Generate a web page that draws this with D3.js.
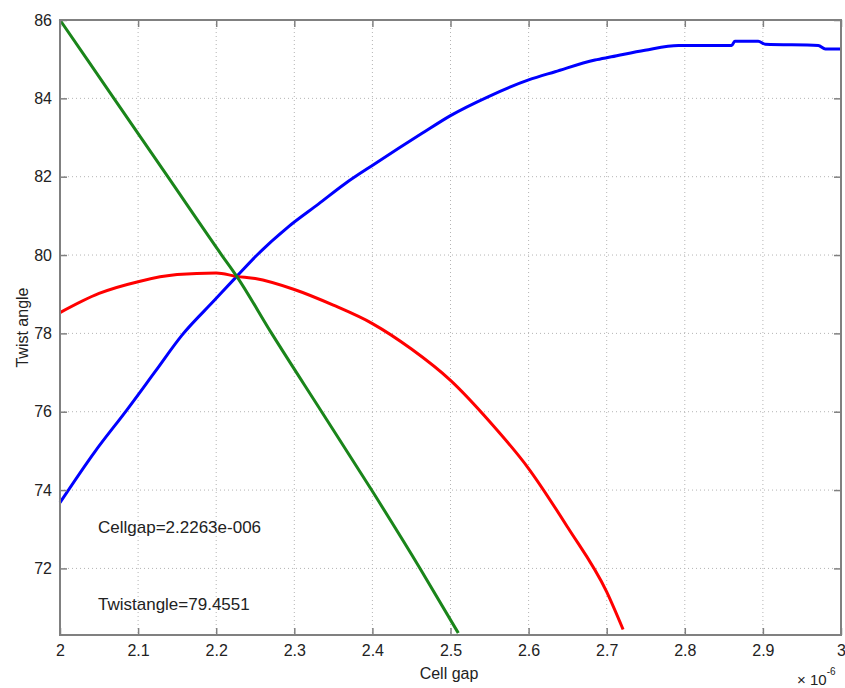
<!DOCTYPE html>
<html>
<head>
<meta charset="utf-8">
<!-- Load d3.js -->
<script src="https://d3js.org/d3.v7.min.js"></script>
<style>
  body { margin: 0; background: #fff; }
  text { font-family: Arial, "Liberation Sans", Helvetica, sans-serif; fill: #222; }
</style>
</head>
<body>
<!-- Create a div where the graph will take place -->
<div id="my_dataviz"></div>

<script>

// Curves: cell gap (x 1e-6) vs twist angle
var blueX  = [2.0, 2.045, 2.085, 2.122, 2.156, 2.198, 2.2263, 2.2497, 2.2923, 2.3308, 2.3649, 2.4033, 2.4631, 2.5, 2.548, 2.6, 2.634, 2.685, 2.706, 2.749, 2.792, 2.86, 2.864, 2.894, 2.903, 2.971, 2.98, 3.0];
var blueY  = [73.68, 74.99, 76.03, 77.03, 77.95, 78.85, 79.455, 79.95, 80.72, 81.3, 81.82, 82.33, 83.1, 83.56, 84.04, 84.47, 84.68, 84.98, 85.06, 85.23, 85.35, 85.35, 85.46, 85.46, 85.38, 85.35, 85.26, 85.26];

var greenX = [2.0, 2.069, 2.138, 2.207, 2.2263, 2.271, 2.335, 2.399, 2.461, 2.51];
var greenY = [86.0, 84.0, 82.0, 80.0, 79.455, 78.0, 76.0, 74.0, 72.0, 70.35];

var redX   = [2.0, 2.05, 2.1, 2.15, 2.2, 2.2263, 2.25, 2.3, 2.35, 2.4, 2.45, 2.5, 2.55, 2.6, 2.65, 2.7, 2.721];
var redY   = [78.53, 79.02, 79.32, 79.5, 79.54, 79.455, 79.4, 79.12, 78.72, 78.25, 77.6, 76.8, 75.75, 74.55, 73.05, 71.4, 70.44];

// Ticks and labels
var xTicks = [2, 2.1, 2.2, 2.3, 2.4, 2.5, 2.6, 2.7, 2.8, 2.9, 3];
var yTicks = [72, 74, 76, 78, 80, 82, 84, 86];
var xDomain = [2, 3];
var yDomain = [70.3, 86];

var cellgapText = "Cellgap=2.2263e-006";
var twistText = "Twistangle=79.4551";

// set the dimensions and margins of the graph
var margin = {top: 20, right: 4, bottom: 53, left: 60},
    w = 781,
    h = 615;

// append the svg object to the body of the page
var svg = d3.select("#my_dataviz")
  .append("svg")
    .attr("width", 845)
    .attr("height", 688)
  .append("g")
    .attr("transform", "translate(" + margin.left + "," + margin.top + ")");

// scales
var x = d3.scaleLinear().domain(xDomain).range([0, w]);
var y = d3.scaleLinear().domain(yDomain).range([h, 0]);

// grid lines (dotted)
svg.append("g")
  .selectAll("line")
  .data(xTicks.slice(1, -1))
  .enter()
  .append("line")
    .attr("x1", function(d) { return x(d) })
    .attr("x2", function(d) { return x(d) })
    .attr("y1", 0)
    .attr("y2", h)
    .style("stroke", "#b4b4b4")
    .style("stroke-width", 1)
    .style("stroke-dasharray", "1,3");

svg.append("g")
  .selectAll("line")
  .data(yTicks.slice(0, -1))
  .enter()
  .append("line")
    .attr("x1", 0)
    .attr("x2", w)
    .attr("y1", function(d) { return y(d) })
    .attr("y2", function(d) { return y(d) })
    .style("stroke", "#b4b4b4")
    .style("stroke-width", 1)
    .style("stroke-dasharray", "1,3");

// the three curves
var line = d3.line()
  .curve(d3.curveMonotoneX)
  .x(function(d) { return x(d[0]) })
  .y(function(d) { return y(d[1]) });

var curves = [
  {xs: blueX, ys: blueY, color: "#0000ff"},
  {xs: redX, ys: redY, color: "#ff0000"},
  {xs: greenX, ys: greenY, color: "#1a851a"}
];

curves.forEach(function(c) {
  svg.append("path")
    .datum(d3.zip(c.xs, c.ys))
    .attr("d", line)
    .style("fill", "none")
    .style("stroke", c.color)
    .style("stroke-width", 3)
    .style("stroke-linejoin", "round");
});

// axes: MATLAB style box with inward ticks on all four sides
var tickLen = 7;
svg.append("g")
  .attr("transform", "translate(0," + h + ")")
  .style("font-size", "16px")
  .call(d3.axisBottom(x).tickValues(xTicks).tickSizeInner(-tickLen).tickSizeOuter(0).tickPadding(10)
        .tickFormat(function(d) { return d3.format("~g")(d) }))
  .call(function(g) { g.select(".domain").remove() });

svg.append("g")
  .style("font-size", "16px")
  .call(d3.axisLeft(y).tickValues(yTicks).tickSizeInner(-tickLen).tickSizeOuter(0).tickPadding(8))
  .call(function(g) { g.select(".domain").remove() });

svg.append("g")
  .call(d3.axisTop(x).tickValues(xTicks).tickSizeInner(-tickLen).tickSizeOuter(0).tickFormat(""))
  .call(function(g) { g.select(".domain").remove() });

svg.append("g")
  .attr("transform", "translate(" + w + ",0)")
  .call(d3.axisRight(y).tickValues(yTicks).tickSizeInner(-tickLen).tickSizeOuter(0).tickFormat(""))
  .call(function(g) { g.select(".domain").remove() });

svg.selectAll(".tick line").style("stroke", "#808080").style("stroke-width", 1.5);
svg.selectAll(".tick text").style("fill", "#222").style("font-family", "Arial, 'Liberation Sans', sans-serif");

// box
svg.append("rect")
  .attr("x", 0)
  .attr("y", 0)
  .attr("width", w)
  .attr("height", h)
  .style("fill", "none")
  .style("stroke", "#808080")
  .style("stroke-width", 2);

// annotations inside the plot
svg.append("text")
  .attr("x", 38)
  .attr("y", 513)
  .style("font-size", "17px")
  .text(cellgapText);

svg.append("text")
  .attr("x", 38)
  .attr("y", 590)
  .style("font-size", "17px")
  .text(twistText);

// X axis label
svg.append("text")
  .attr("x", 389)
  .attr("y", h + 44)
  .style("text-anchor", "middle")
  .style("font-size", "16px")
  .text("Cell gap");

// exponent label
var expo = svg.append("text")
  .attr("x", 737)
  .attr("y", h + 50)
  .style("font-size", "15px");
expo.append("tspan").text("\u00d7 10");
expo.append("tspan")
  .attr("dy", -10)
  .style("font-size", "10px")
  .text("-6");

// Y axis label
svg.append("text")
  .attr("transform", "rotate(-90)")
  .attr("x", -h / 2)
  .attr("y", -32)
  .style("text-anchor", "middle")
  .style("font-size", "16px")
  .text("Twist angle");

</script>
</body>
</html>
